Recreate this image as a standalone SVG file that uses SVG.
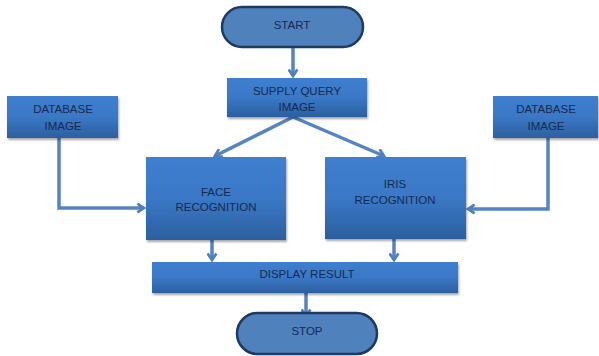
<svg xmlns="http://www.w3.org/2000/svg" width="599" height="356" viewBox="0 0 599 356">
<defs>
<linearGradient id="boxg" x1="0" y1="0" x2="0" y2="1">
<stop offset="0" stop-color="#3f7fcf"/>
<stop offset="0.5" stop-color="#3a78c6"/>
<stop offset="1" stop-color="#2c5f9f"/>
</linearGradient>
<filter id="sh" x="-10%" y="-10%" width="130%" height="130%">
<feDropShadow dx="1" dy="2" stdDeviation="1.2" flood-color="#000" flood-opacity="0.35"/>
</filter>
<marker id="arr" viewBox="0 0 10 10" refX="8" refY="5" markerWidth="11" markerHeight="11" markerUnits="userSpaceOnUse" orient="auto">
<path d="M2,1 L8,5 L2,9" fill="none" stroke="#4f7fbd" stroke-width="2.5" stroke-linejoin="miter"/>
</marker>
</defs>
<style>
.box{fill:url(#boxg);filter:url(#sh);}
.term{fill:#4f81bd;stroke:#1f3a60;stroke-width:2.5;}
.t{font-family:"Liberation Sans",Arial,sans-serif;font-size:11.5px;fill:#142a50;text-anchor:middle;}
.c{fill:none;stroke:#5485c2;stroke-width:3.5;marker-end:url(#arr);}
</style>
<g id="connectors">
<path class="c" d="M293,48 V76"/>
<path class="c" d="M293,117 L215,156"/>
<path class="c" d="M293,117 L384,156"/>
<path class="c" d="M59,138 V208 H144"/>
<path class="c" d="M548,138 V209 H468"/>
<path class="c" d="M212,240 V260"/>
<path class="c" d="M394,239 V260"/>
<path class="c" d="M306,293 V316"/>
</g>
<g id="start">
<rect class="term" x="222" y="7" width="141" height="40" rx="20" ry="20"/>
<text class="t" x="292" y="29">START</text>
</g>
<g id="supply">
<rect class="box" x="227" y="78" width="140" height="39"/>
<text class="t" x="297" y="95">SUPPLY QUERY</text>
<text class="t" x="297" y="111">IMAGE</text>
</g>
<g id="db-left">
<rect class="box" x="7" y="96" width="111" height="42"/>
<text class="t" x="63" y="113">DATABASE</text>
<text class="t" x="63" y="130">IMAGE</text>
</g>
<g id="db-right">
<rect class="box" x="493" y="96" width="105" height="42"/>
<text class="t" x="546" y="113">DATABASE</text>
<text class="t" x="546" y="130">IMAGE</text>
</g>
<g id="face">
<rect class="box" x="146" y="157" width="140" height="83"/>
<text class="t" x="216" y="196">FACE</text>
<text class="t" x="216" y="211">RECOGNITION</text>
</g>
<g id="iris">
<rect class="box" x="325" y="157" width="141" height="82"/>
<text class="t" x="395" y="188">IRIS</text>
<text class="t" x="395" y="204">RECOGNITION</text>
</g>
<g id="display">
<rect class="box" x="152" y="262" width="306" height="31"/>
<text class="t" x="307" y="278">DISPLAY RESULT</text>
</g>
<g id="stop">
<rect class="term" x="237" y="313" width="140" height="41" rx="20.5" ry="20.5"/>
<text class="t" x="307" y="335">STOP</text>
</g>
</svg>
